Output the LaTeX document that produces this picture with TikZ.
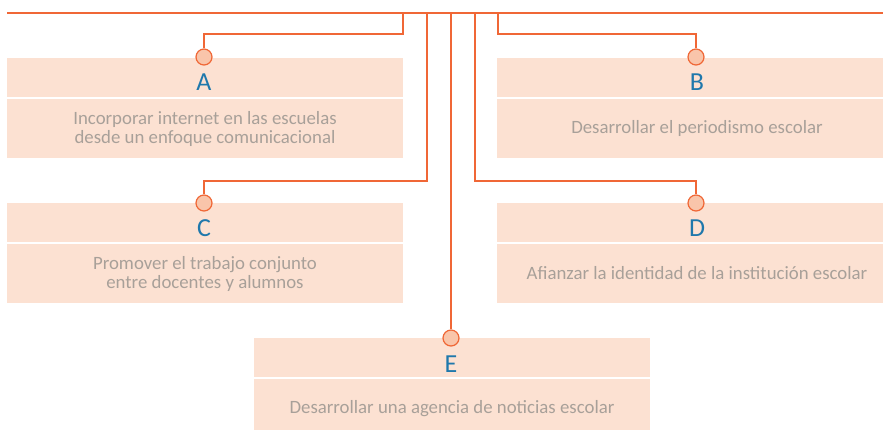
\documentclass[tikz,border=0pt]{standalone}
\usepackage{fontspec}
\setmainfont{Carlito}
\definecolor{linecol}{RGB}{240,103,54}
\definecolor{boxfill}{RGB}{252,225,210}
\definecolor{dotfill}{RGB}{249,197,170}
\definecolor{tagblue}{RGB}{31,120,172}
\definecolor{textgray}{RGB}{168,160,153}

\begin{document}
\begin{tikzpicture}[x=1pt,y=-1pt,
  headbox/.style={fill=boxfill,minimum width=396pt,minimum height=39pt,inner sep=0pt},
  bodybox/.style={fill=boxfill,minimum width=396pt,minimum height=59pt,inner sep=0pt,
    align=center,text=textgray,font=\fontsize{18.8}{19}\selectfont},
  tag/.style={anchor=base,text=tagblue,inner sep=0pt,font=\fontsize{26}{26}\selectfont},
  dot/.style={circle,draw=linecol,fill=dotfill,line width=1.2pt,minimum size=16pt,inner sep=0pt},
  link/.style={draw=linecol,line width=1.4pt}]
  \useasboundingbox (0,0) rectangle (883,429);
  % cards
  \node[headbox] (hA) at (205,77.5) {};
  \node[bodybox] (bA) at (205,128.5) {Incorporar internet en las escuelas\\desde un enfoque comunicacional};
  \node[headbox,minimum width=400pt] (hB) at (697,77.5) {};
  \node[bodybox,minimum width=400pt] (bB) at (697,128.5) {Desarrollar el periodismo escolar};
  \node[headbox] (hC) at (205,222) {};
  \node[bodybox] (bC) at (205,273.5) {Promover el trabajo conjunto\\entre docentes y alumnos};
  \node[headbox,minimum width=400pt] (hD) at (697,222) {};
  \node[bodybox,minimum width=400pt] (bD) at (697,273.5) {Afianzar la identidad de la instituci\'on escolar};
  \node[headbox] (hE) at (452,357.5) {};
  \node[bodybox] (bE) at (452,408.5) {Desarrollar una agencia de noticias escolar};
  \node[tag] (lA) at (204,90) {A};
  \node[tag] (lB) at (697,90) {B};
  \node[tag] (lC) at (204,236) {C};
  \node[tag] (lD) at (697,236) {D};
  \node[tag] (lE) at (451,372) {E};
  % tree
  \coordinate (left) at (7,13);
  \coordinate (right) at (883,13);
  \coordinate (jA) at (403,13);
  \coordinate (jC) at (427,13);
  \coordinate (jE) at (451,13);
  \coordinate (jD) at (475,13);
  \coordinate (jB) at (498,13);
  \node[dot] (cA) at (204,57) {};
  \node[dot] (cB) at (696,57) {};
  \node[dot] (cC) at (204,203) {};
  \node[dot] (cD) at (696,203) {};
  \node[dot] (cE) at (451,338) {};
  \draw[draw=linecol,line width=2.2pt] (left)--(right);
  \draw[link] (jA)-- ++(0,21) -| (cA);
  \draw[link] (jB)-- ++(0,21) -| (cB);
  \draw[link] (jC)-- ++(0,168) -| (cC);
  \draw[link] (jD)-- ++(0,168) -| (cD);
  \draw[link] (jE)--(cE);
\end{tikzpicture}
\end{document}
